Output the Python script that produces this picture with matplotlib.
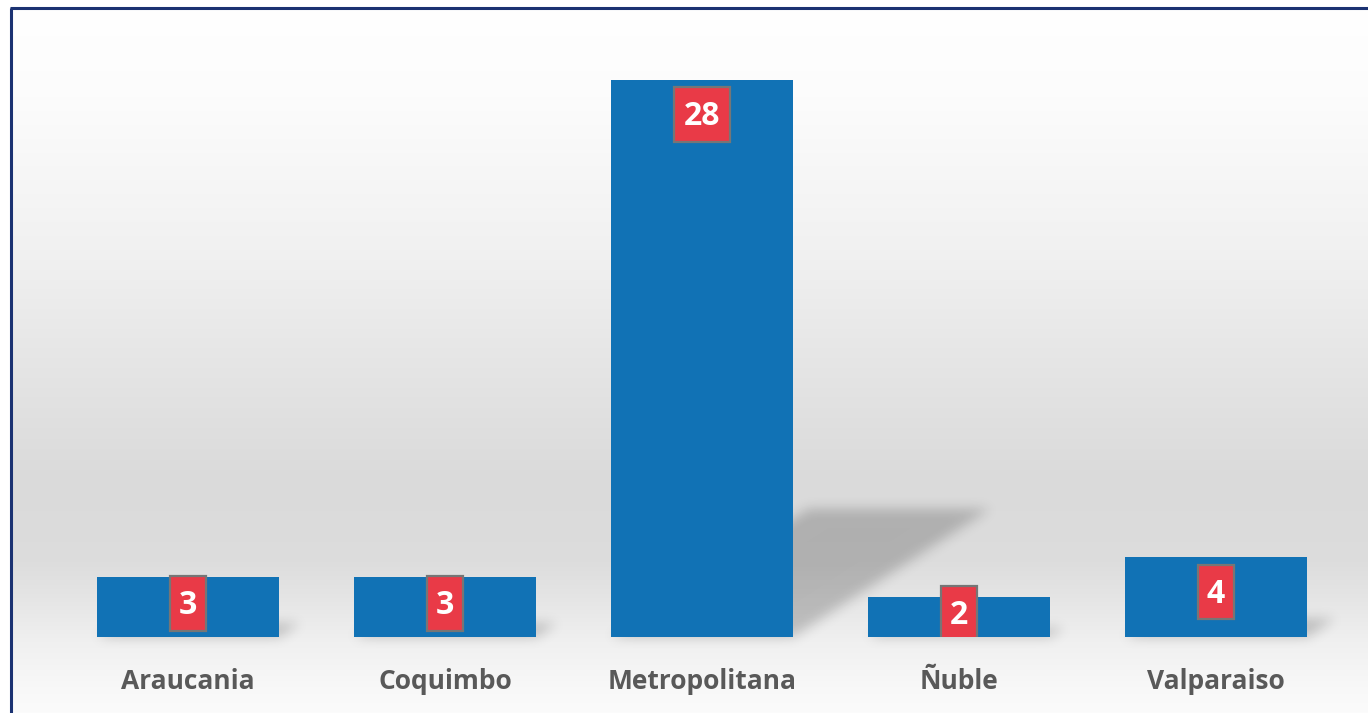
import numpy as np
import matplotlib
matplotlib.use("Agg")
import matplotlib.pyplot as plt
from matplotlib.patches import Rectangle, Polygon
from matplotlib.lines import Line2D

# data
regions = ["Araucania", "Coquimbo", "Metropolitana", "Ñuble", "Valparaiso"]
counts = [3, 3, 28, 2, 4]

BAR_COLOR = "#1172b5"
LABEL_BG = "#e93a47"
LABEL_EDGE = "#767676"
TEXT_GRAY = "#595959"
W, H = 1368, 713

plt.rcParams['font.family'] = ['Open Sans', 'DejaVu Sans']


def blur_filter(sigma, color=(0, 0, 0), alpha=0.22):
    # gaussian blur of the alpha channel, used as an agg filter for shadows
    def f(im, dpi):
        pad = int(3 * sigma) + 1
        a = np.pad(im[:, :, 3], pad)
        x = np.arange(-pad, pad + 1)
        k = np.exp(-x ** 2 / (2.0 * sigma ** 2))
        k /= k.sum()
        a = np.apply_along_axis(lambda r: np.convolve(r, k, mode='same'), 0, a)
        a = np.apply_along_axis(lambda r: np.convolve(r, k, mode='same'), 1, a)
        out = np.zeros(a.shape + (4,))
        out[..., :3] = color
        out[..., 3] = a * alpha
        return out, -pad, -pad
    return f


fig = plt.figure(figsize=(W / 100, H / 100), dpi=100)

# background gradient (chart area fill)
bg = fig.add_axes([0, 0, 1, 1])
bg.set_xlim(0, W)
bg.set_ylim(H, 0)
bg.axis('off')
stops_y = [0, 90, 250, 400, 480, 560, 600, 640, 690, 713]
stops_v = [1.0, 0.99, 0.945, 0.885, 0.855, 0.865, 0.9, 0.94, 0.975, 0.985]
yy = np.arange(H)
col = np.interp(yy, stops_y, stops_v)
grad = np.repeat(col[:, None], 4, axis=1)
img = np.dstack([grad, grad, grad])
bg.imshow(img, extent=[0, W, H, 0], aspect='auto', zorder=0)
bg.add_patch(Rectangle((0, 0), W, 7, color='white', zorder=1))
bg.add_patch(Rectangle((0, 0), 10, H, color='white', zorder=1))
bg.add_line(Line2D([11, 11], [7.5, H], color='#1b3272', lw=2.2,
                   solid_capstyle='butt', zorder=2))
bg.add_line(Line2D([10, W], [7.5, 7.5], color='#1b3272', lw=2.2,
                   solid_capstyle='butt', zorder=2))

# main chart axes
left, right, top, base = 59.5, 1344.5, 20, 637
ax = fig.add_axes([left / W, (H - base) / H, (right - left) / W, (base - top) / H])
ax.set_facecolor('none')
ax.set_xlim(-0.5, len(regions) - 0.5)
ax.set_ylim(0, 31)
for s in ax.spines.values():
    s.set_visible(False)
ax.set_yticks([])

x = np.arange(len(regions))
bw = 0.708

# perspective shadows
k_h, k_s = 0.23, 0.0274
for xi, v in zip(x, counts):
    pts = [(xi - bw / 2, 0), (xi + bw / 2, 0),
           (xi + bw / 2 + k_s * v, k_h * v), (xi - bw / 2 + k_s * v, k_h * v)]
    p = Polygon(pts, closed=True, facecolor='black', edgecolor='none', zorder=1)
    p.set_agg_filter(blur_filter(6, alpha=0.2))
    ax.add_patch(p)

ax.bar(x, counts, width=bw, color=BAR_COLOR, zorder=2)

# value labels in red boxes
box_h = 2.76
for xi, v in zip(x, counts):
    s = str(v)
    yc = max(v - 1.74, v / 2 + 0.2)
    wbox = 0.062 + 0.078 * len(s)
    ax.add_patch(Rectangle((xi - wbox / 2, yc - box_h / 2), wbox, box_h,
                           facecolor=LABEL_BG, edgecolor=LABEL_EDGE, lw=1.6, zorder=3))
    ax.text(xi, yc - 0.12, s, ha='center', va='center', color='white',
            fontsize=23, fontweight='bold', zorder=4)

ax.set_xticks(x)
ax.set_xticklabels(regions, fontsize=19, fontweight='bold', color=TEXT_GRAY)
ax.tick_params(axis='x', length=0, pad=22)

fig.savefig("out.png", dpi=100)
